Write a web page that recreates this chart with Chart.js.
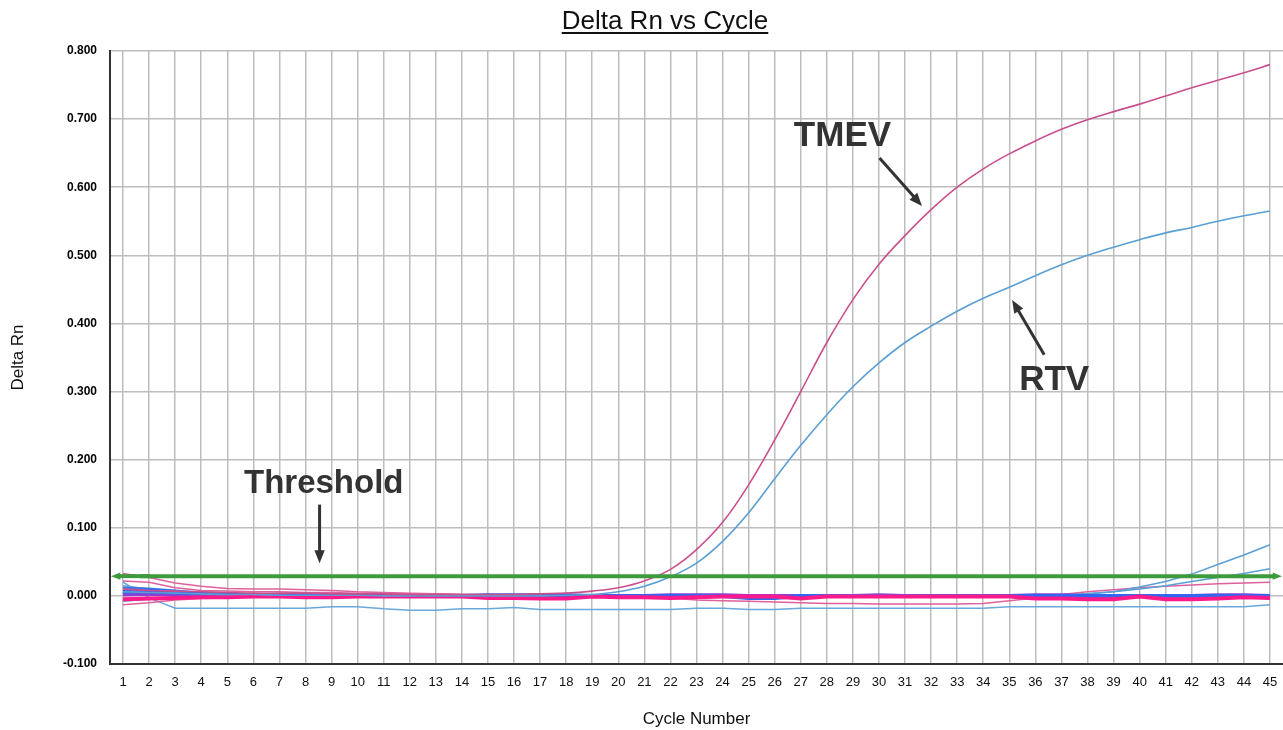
<!DOCTYPE html>
<html>
<head>
<meta charset="utf-8">
<title>Delta Rn vs Cycle</title>
<script src="https://cdn.jsdelivr.net/npm/chart.js@4.4.1/dist/chart.umd.min.js"></script>
<style>
  body { margin: 0; background: #fff; }
  #caja { width: 1283px; height: 730px; }
</style>
</head>
<body>
<div id="caja"><canvas id="myChart" width="1283" height="730"></canvas></div>
<script>
//DATOS
const CICLOS = [1, 2, 3, 4, 5, 6, 7, 8, 9, 10, 11, 12, 13, 14, 15, 16, 17, 18, 19, 20,
  21, 22, 23, 24, 25, 26, 27, 28, 29, 30, 31, 32, 33, 34, 35, 36, 37, 38, 39, 40,
  41, 42, 43, 44, 45];

const TMEV = [0.010, 0.008, 0.007, 0.006, 0.005, 0.004, 0.004, 0.004, 0.003, 0.003,
  0.003, 0.002, 0.002, 0.002, 0.002, 0.002, 0.003, 0.004, 0.007, 0.012,
  0.022, 0.039, 0.068, 0.108, 0.163, 0.229, 0.300, 0.372, 0.435, 0.487,
  0.529, 0.567, 0.600, 0.627, 0.649, 0.668, 0.685, 0.699, 0.711, 0.722,
  0.734, 0.746, 0.757, 0.768, 0.780];

const RTV = [0.006, 0.005, 0.004, 0.003, 0.002, 0.002, 0.001, 0.001, 0.001, 0.001,
  0.000, 0.000, 0.000, 0.000, 0.000, 0.000, 0.000, 0.001, 0.002, 0.006,
  0.014, 0.028, 0.048, 0.080, 0.122, 0.172, 0.221, 0.266, 0.307, 0.342,
  0.372, 0.396, 0.418, 0.437, 0.453, 0.470, 0.486, 0.500, 0.512, 0.523,
  0.533, 0.541, 0.550, 0.558, 0.565];

// muestras negativas / sin amplificacion
const ROSA_ALTA = [0.033, 0.027, 0.019, 0.014, 0.011, 0.010, 0.010, 0.009, 0.008, 0.006,
  0.005, 0.004, 0.003, 0.002, 0.001, 0.000, 0.000, 0.000, 0.000, 0.000,
  0.000, 0.000, 0.000, 0.000, 0.000, 0.000, 0.000, 0.000, 0.000, 0.000,
  0.000, 0.000, 0.000, 0.000, 0.000, 0.000, 0.000, 0.000, 0.000, 0.000,
  0.000, 0.000, 0.000, 0.000, 0.000];

const ROSA_MEDIA = [0.022, 0.020, 0.012, 0.008, 0.007, 0.006, 0.006, 0.005, 0.005, 0.004,
  0.004, 0.003, 0.003, 0.002, 0.002, 0.001, 0.001, 0.001, 0.001, 0.001,
  0.001, 0.001, 0.000, 0.000, 0.000, 0.000, 0.000, 0.000, 0.000, 0.000,
  0.000, 0.000, 0.000, 0.000, 0.000, 0.000, 0.000, 0.000, 0.000, 0.000,
  0.000, 0.000, 0.000, 0.000, 0.000];

const ROSA_BAJA = [-0.013, -0.010, -0.006, -0.004, -0.003, -0.002, -0.002, -0.001, -0.001, -0.001,
  -0.001, -0.001, -0.001, -0.001, -0.001, -0.001, -0.001, -0.001, -0.001, -0.001,
  -0.001, -0.003, -0.006, -0.007, -0.008, -0.009, -0.010, -0.011, -0.011, -0.012,
  -0.012, -0.012, -0.012, -0.011, -0.007, -0.003, 0.002, 0.006, 0.009, 0.012,
  0.014, 0.016, 0.018, 0.019, 0.020];

const AZUL_BAJA = [0.020, -0.003, -0.018, -0.018, -0.018, -0.018, -0.018, -0.018, -0.016, -0.016,
  -0.019, -0.021, -0.021, -0.019, -0.019, -0.017, -0.020, -0.020, -0.020, -0.020,
  -0.020, -0.020, -0.018, -0.018, -0.020, -0.020, -0.018, -0.018, -0.018, -0.018,
  -0.018, -0.018, -0.018, -0.018, -0.016, -0.016, -0.016, -0.016, -0.016, -0.016,
  -0.016, -0.016, -0.016, -0.016, -0.013];

const AZUL_SUBE1 = [0.015, 0.010, 0.006, 0.004, 0.003, 0.002, 0.001, 0.001, 0.000, 0.000,
  0.000, 0.000, 0.000, 0.000, 0.000, 0.000, 0.000, 0.000, 0.000, 0.000,
  0.000, 0.000, 0.000, 0.000, 0.000, 0.000, 0.000, 0.000, 0.000, 0.000,
  0.000, 0.000, 0.000, 0.000, 0.000, 0.000, 0.001, 0.003, 0.006, 0.013,
  0.021, 0.032, 0.046, 0.060, 0.075];

const AZUL_SUBE2 = [-0.008, -0.005, -0.003, -0.002, -0.001, -0.001, -0.001, -0.001, -0.001, -0.001,
  -0.001, -0.001, -0.001, -0.001, -0.001, -0.001, -0.001, -0.001, -0.001, -0.001,
  -0.001, -0.001, -0.001, -0.001, -0.001, -0.001, -0.001, -0.001, -0.001, -0.001,
  -0.001, -0.001, -0.001, -0.001, -0.001, -0.001, 0.001, 0.003, 0.006, 0.010,
  0.015, 0.021, 0.027, 0.033, 0.040];

const AZUL_MEDIA = [0.012, 0.011, 0.008, 0.005, 0.003, 0.002, 0.001, 0.001, 0.000, 0.000,
  0.000, 0.000, 0.000, 0.000, 0.000, 0.000, 0.000, 0.000, 0.000, 0.000,
  0.000, 0.000, 0.000, 0.000, 0.000, 0.000, 0.000, 0.000, 0.000, 0.000,
  0.000, 0.000, 0.000, 0.000, 0.000, 0.000, 0.000, 0.000, 0.000, 0.000,
  0.000, 0.000, 0.000, 0.000, 0.000];

const ROSA_FUERTE = [-0.005, -0.004, -0.003, -0.002, -0.002, -0.001, -0.001, -0.002, -0.002, -0.001,
  -0.001, -0.001, -0.001, -0.001, -0.003, -0.003, -0.004, -0.004, -0.001, -0.002,
  -0.002, -0.003, -0.002, -0.001, -0.001, -0.001, -0.004, -0.001, -0.001, -0.001,
  -0.001, -0.001, -0.001, -0.001, -0.001, -0.004, -0.004, -0.005, -0.005, -0.001,
  -0.005, -0.005, -0.004, -0.002, -0.003];

const AZUL_FUERTE = [0.006, 0.007, 0.005, 0.003, 0.002, 0.001, 0.000, 0.000, 0.000, 0.000,
  0.000, 0.000, 0.000, 0.000, 0.001, 0.001, 0.001, 0.001, 0.000, 0.000,
  0.000, 0.000, 0.000, 0.000, -0.003, -0.003, 0.000, 0.000, 0.000, 0.000,
  0.000, 0.000, 0.000, 0.000, 0.000, 0.000, 0.000, 0.000, 0.000, 0.000,
  0.000, 0.000, 0.000, 0.000, 0.000];

const MORADO = [0.002, 0.003, 0.002, 0.002, 0.001, 0.001, 0.000, 0.000, 0.000, 0.000,
  0.000, 0.000, 0.000, 0.000, 0.000, 0.000, 0.000, 0.000, 0.000, 0.000,
  0.000, 0.001, 0.001, 0.001, 0.000, 0.000, 0.000, 0.000, 0.000, 0.001,
  0.000, 0.000, 0.000, 0.000, 0.000, 0.001, 0.001, 0.000, 0.000, 0.000,
  0.000, 0.000, 0.001, 0.001, 0.000];

const UMBRAL = 0.029;
const Y_MIN = -0.1;
const Y_MAX = 0.8;

//FUNCIONES
function linea(datos, color, grosor, suave) {
  return {
    data: datos,
    borderColor: color,
    borderWidth: grosor,
    pointRadius: 0,
    fill: false,
    tension: suave ? 0.4 : 0,
  };
}

function flecha(ctx, x1, y1, x2, y2, tam) {
  const ang = Math.atan2(y2 - y1, x2 - x1);
  ctx.beginPath();
  ctx.moveTo(x1, y1);
  ctx.lineTo(x2 - tam * 0.7 * Math.cos(ang), y2 - tam * 0.7 * Math.sin(ang));
  ctx.stroke();
  ctx.beginPath();
  ctx.moveTo(x2, y2);
  ctx.lineTo(x2 - tam * Math.cos(ang - 0.38), y2 - tam * Math.sin(ang - 0.38));
  ctx.lineTo(x2 - tam * Math.cos(ang + 0.38), y2 - tam * Math.sin(ang + 0.38));
  ctx.closePath();
  ctx.fill();
}

// umbral, titulo y anotaciones
const anotaciones = {
  id: "anotaciones",
  afterDatasetsDraw(chart) {
    const { ctx, chartArea, scales } = chart;
    const yu = scales.y.getPixelForValue(UMBRAL);
    ctx.save();
    ctx.strokeStyle = "#3d9b3d";
    ctx.fillStyle = "#3d9b3d";
    ctx.lineWidth = 4;
    flecha(ctx, chartArea.left + 40, yu, chartArea.left + 1, yu, 10);
    flecha(ctx, chartArea.left + 30, yu, chartArea.right - 1, yu, 10);
    ctx.restore();
  },
  afterDraw(chart) {
    const { ctx, scales } = chart;
    const px = (c) => scales.x.getPixelForValue(c - 1);
    const py = (v) => scales.y.getPixelForValue(v);
    ctx.save();
    // titulo subrayado
    ctx.fillStyle = "#111";
    ctx.font = '26px Arial, "Liberation Sans", sans-serif';
    ctx.textAlign = "center";
    ctx.textBaseline = "alphabetic";
    ctx.fillText("Delta Rn vs Cycle", 665, 29);
    const w = ctx.measureText("Delta Rn vs Cycle").width;
    ctx.fillRect(665 - w / 2, 32, w, 2);

    // etiquetas
    ctx.fillStyle = "#333";
    ctx.strokeStyle = "#333";
    ctx.font = 'bold 35px Arial, "Liberation Sans", sans-serif';
    ctx.fillText("TMEV", px(28.6), py(0.66));
    ctx.fillText("RTV", px(36.72), py(0.302));
    ctx.font = 'bold 33px Arial, "Liberation Sans", sans-serif';
    ctx.fillText("Threshold", px(8.7), py(0.151));

    ctx.lineWidth = 3;
    flecha(ctx, px(30.02), py(0.643), px(31.65), py(0.5725), 14);
    flecha(ctx, px(36.34), py(0.354), px(35.11), py(0.4345), 14);
    flecha(ctx, px(8.54), py(0.134), px(8.54), py(0.048), 14);
    ctx.restore();
  },
};

const data = {
  labels: CICLOS,
  datasets: [
    linea(TMEV, "#c9508c", 1.6, true),
    linea(RTV, "#5a9fd4", 1.6, true),
    linea(ROSA_FUERTE, "#ff1a8c", 4, false),
    linea(AZUL_FUERTE, "#3366ee", 4, false),
    linea(MORADO, "#8b3fd6", 4, false),
    linea(AZUL_MEDIA, "#3f74e8", 2, false),
    linea(AZUL_SUBE1, "#5aa0d6", 1.5, false),
    linea(AZUL_SUBE2, "#5aa0d6", 1.5, false),
    linea(ROSA_ALTA, "#e0609c", 1.5, false),
    linea(ROSA_MEDIA, "#e0609c", 1.5, false),
    linea(ROSA_BAJA, "#e0609c", 1.5, false),
    linea(AZUL_BAJA, "#6aa8da", 1.5, false),
  ],
};

const config = {
  type: "line",
  data: data,
  plugins: [anotaciones],
  options: {
    responsive: false,
    animation: false,
    layout: { padding: { top: 51, left: 0, right: 0, bottom: 0 } },
    plugins: {
      legend: { display: false },
      tooltip: { enabled: false },
      title: { display: false },
    },
    scales: {
      x: {
        type: "category",
        offset: true,
        grid: { color: "#bdbdbd", lineWidth: 1.5, offset: false, drawTicks: false },
        border: { color: "#333", width: 2 },
        ticks: { color: "#111", font: { size: 13 }, padding: 11, maxRotation: 0, autoSkip: false },
        title: { display: true, text: "Cycle Number", color: "#111", font: { size: 17 }, padding: { top: 0, bottom: 0 } },
        afterFit: (escala) => {
          escala.height = 66;
          escala.paddingLeft = 0;
          escala.paddingRight = 0;
        },
      },
      y: {
        min: Y_MIN,
        max: Y_MAX,
        grid: { color: "#bdbdbd", lineWidth: 1.5, drawTicks: false },
        border: { color: "#333", width: 2 },
        ticks: {
          stepSize: 0.1,
          color: "#000",
          font: { size: 12, weight: "bold" },
          padding: 13,
          callback: (v) => v.toFixed(3),
        },
        title: { display: true, text: "Delta Rn", color: "#111", font: { size: 17 }, padding: { top: 8, bottom: 0 } },
        afterFit: (escala) => {
          escala.width = 110;
        },
      },
    },
  },
};

//EVENTOS
Chart.defaults.font.family = 'Arial, "Liberation Sans", sans-serif';
const myChart = new Chart(document.getElementById("myChart"), config);
</script>
</body>
</html>
